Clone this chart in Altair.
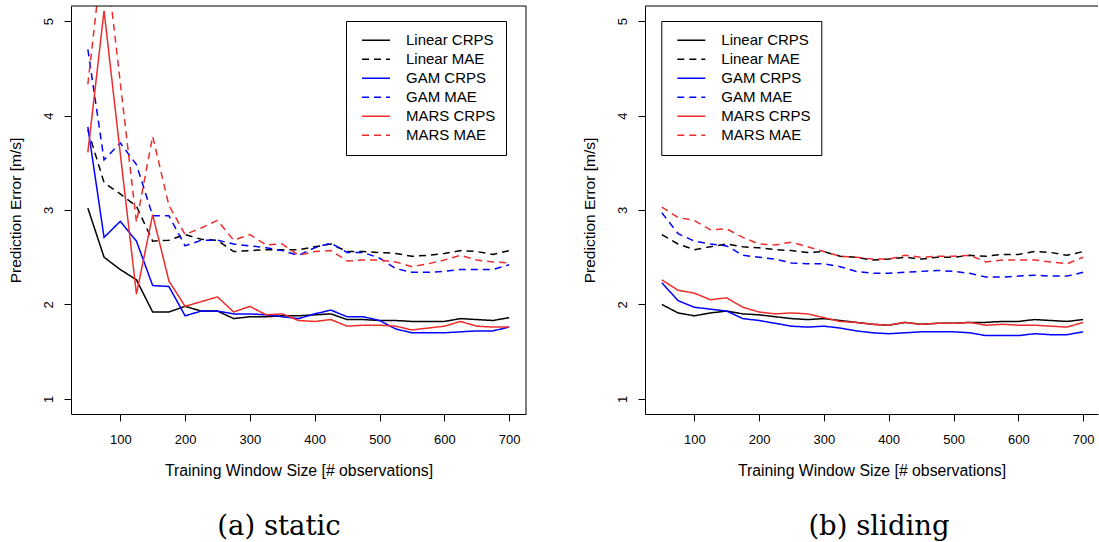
import altair as alt
import pandas as pd

# ---------------- data ----------------
x_vals = list(range(50, 701, 25))
series_names = ["Linear CRPS", "Linear MAE", "GAM CRPS", "GAM MAE", "MARS CRPS", "MARS MAE"]
series_colors = ["#000000", "#000000", "#0000FF", "#0000FF", "#EE2C2C", "#EE2C2C"]
series_dash = [[1, 0], [7, 5], [1, 0], [7, 5], [1, 0], [7, 5]]

static_linear_crps = [3.02, 2.50, 2.37, 2.26, 1.92, 1.92, 1.98, 1.93, 1.93, 1.85, 1.87, 1.87, 1.88, 1.88,
                      1.89, 1.90, 1.84, 1.84, 1.83, 1.83, 1.82, 1.82, 1.82, 1.85, 1.84, 1.83, 1.86]
static_linear_mae = [3.85, 3.29, 3.17, 3.04, 2.67, 2.68, 2.74, 2.69, 2.68, 2.56, 2.57, 2.58, 2.58, 2.58,
                     2.61, 2.64, 2.56, 2.56, 2.55, 2.54, 2.51, 2.52, 2.54, 2.57, 2.56, 2.53, 2.57]
static_gam_crps = [3.88, 2.71, 2.88, 2.67, 2.20, 2.19, 1.88, 1.93, 1.93, 1.90, 1.90, 1.89, 1.87, 1.85,
                   1.90, 1.94, 1.87, 1.87, 1.83, 1.74, 1.70, 1.70, 1.70, 1.71, 1.72, 1.72, 1.76]
static_gam_mae = [4.70, 3.53, 3.71, 3.48, 2.94, 2.94, 2.62, 2.68, 2.68, 2.64, 2.62, 2.60, 2.57, 2.52,
                  2.60, 2.65, 2.55, 2.55, 2.49, 2.38, 2.34, 2.34, 2.35, 2.37, 2.37, 2.37, 2.42]
static_mars_crps = [3.61, 5.11, 3.60, 2.11, 2.95, 2.25, 1.98, 2.03, 2.08, 1.92, 1.98, 1.89, 1.90, 1.83,
                    1.82, 1.84, 1.77, 1.78, 1.78, 1.77, 1.73, 1.75, 1.77, 1.82, 1.77, 1.76, 1.76]
static_mars_mae = [4.33, 5.85, 4.35, 2.87, 3.78, 3.05, 2.74, 2.81, 2.89, 2.68, 2.74, 2.63, 2.64, 2.52,
                   2.56, 2.57, 2.46, 2.47, 2.47, 2.45, 2.40, 2.43, 2.47, 2.52, 2.47, 2.45, 2.44]

sliding_linear_crps = [2.00, 1.91, 1.88, 1.91, 1.93, 1.90, 1.89, 1.87, 1.85, 1.84, 1.85, 1.83, 1.81, 1.79,
                       1.78, 1.81, 1.79, 1.80, 1.80, 1.81, 1.81, 1.82, 1.82, 1.84, 1.83, 1.82, 1.84]
sliding_linear_mae = [2.74, 2.64, 2.58, 2.61, 2.64, 2.61, 2.60, 2.58, 2.57, 2.55, 2.56, 2.51, 2.50, 2.47,
                      2.48, 2.50, 2.48, 2.50, 2.50, 2.52, 2.51, 2.53, 2.53, 2.56, 2.55, 2.52, 2.56]
sliding_gam_crps = [2.23, 2.04, 1.97, 1.95, 1.93, 1.85, 1.83, 1.80, 1.77, 1.76, 1.77, 1.75, 1.72, 1.70,
                    1.69, 1.70, 1.71, 1.71, 1.71, 1.70, 1.67, 1.67, 1.67, 1.69, 1.68, 1.68, 1.71]
sliding_gam_mae = [2.97, 2.75, 2.67, 2.64, 2.62, 2.52, 2.50, 2.48, 2.44, 2.43, 2.43, 2.40, 2.35, 2.33,
                   2.33, 2.34, 2.35, 2.36, 2.35, 2.33, 2.29, 2.29, 2.30, 2.31, 2.30, 2.30, 2.34]
sliding_mars_crps = [2.26, 2.15, 2.12, 2.05, 2.07, 1.97, 1.92, 1.90, 1.91, 1.90, 1.86, 1.82, 1.81, 1.79,
                     1.78, 1.81, 1.79, 1.80, 1.80, 1.81, 1.78, 1.79, 1.78, 1.78, 1.77, 1.76, 1.81]
sliding_mars_mae = [3.03, 2.92, 2.89, 2.79, 2.80, 2.71, 2.64, 2.63, 2.66, 2.61, 2.56, 2.51, 2.50, 2.48,
                    2.48, 2.52, 2.50, 2.51, 2.51, 2.52, 2.45, 2.47, 2.47, 2.47, 2.45, 2.43, 2.50]

x_ticks = [100, 200, 300, 400, 500, 600, 700]
y_ticks = [1, 2, 3, 4, 5]
x_title = "Training Window Size [# observations]"
y_title = "Prediction Error [m/s]"
captions = ["(a) static", "(b) sliding"]

static_series = [static_linear_crps, static_linear_mae, static_gam_crps,
                 static_gam_mae, static_mars_crps, static_mars_mae]
sliding_series = [sliding_linear_crps, sliding_linear_mae, sliding_gam_crps,
                  sliding_gam_mae, sliding_mars_crps, sliding_mars_mae]


def to_frame(series_list):
    rows = []
    for name, vals in zip(series_names, series_list):
        for xv, yv in zip(x_vals, vals):
            rows.append({"x": xv, "value": yv, "series": name})
    return pd.DataFrame(rows)


# ---------------- layout constants ----------------
H = 408
X_MIN, X_MAX_L = 24, 726
PX_PER_UNIT = 455 / (X_MAX_L - X_MIN)
Y_MIN, Y_MAX = 0.84, 5.16
FONT = "Liberation Sans"


def panel(df, width, xmax, legend_x, caption, cap_dx, right_border):
    leg = alt.Legend(
        orient="none", legendX=legend_x, legendY=15, title=None,
        symbolType="stroke", symbolSize=784, symbolStrokeWidth=1.5,
        labelFontSize=15, labelFont=FONT, labelColor="black", labelLimit=400,
        padding=10, strokeColor="black", fillColor="white",
        clipHeight=18.6, rowPadding=0, symbolOffset=5, labelOffset=15,
    )
    xaxis = alt.Axis(
        values=x_ticks, title=x_title, tickSize=7, tickColor="black", tickWidth=1,
        labelFontSize=13, labelFont=FONT, labelColor="black", labelPadding=12,
        labelFlush=False, labelOverlap=False,
        titleFontSize=15.8, titleFont=FONT, titleFontWeight="normal", titleColor="black",
        titleY=49, titleBaseline="top",
        domainColor="black", domainWidth=1, grid=False,
    )
    yaxis = alt.Axis(
        values=y_ticks, format="d", title=y_title, tickSize=7, tickColor="black", tickWidth=1,
        labelFontSize=13, labelFont=FONT, labelColor="black", labelPadding=9,
        labelAngle=270, labelAlign="center", labelBaseline="bottom",
        titleFontSize=15.5, titleFont=FONT, titleFontWeight="normal", titleColor="black",
        titleX=-51, titleY=H / 2, titleAngle=270, titleAlign="center",
        titleBaseline="alphabetic",
        domainColor="black", domainWidth=1, grid=False,
    )
    lines = alt.Chart(df).mark_line(clip=True, strokeWidth=1.5).encode(
        x=alt.X("x:Q", scale=alt.Scale(domain=[X_MIN, xmax], nice=False, zero=False), axis=xaxis),
        y=alt.Y("value:Q", scale=alt.Scale(domain=[Y_MIN, Y_MAX], nice=False, zero=False), axis=yaxis),
        color=alt.Color("series:N", scale=alt.Scale(domain=series_names, range=series_colors), legend=leg),
        strokeDash=alt.StrokeDash("series:N", scale=alt.Scale(domain=series_names, range=series_dash),
                                  legend=leg),
    )
    one = pd.DataFrame({"k": [0]})
    top = alt.Chart(one).mark_rule(color="black", strokeWidth=1).encode(y=alt.datum(Y_MAX))
    layers = [lines, top]
    if right_border:
        layers.append(alt.Chart(one).mark_rule(color="black", strokeWidth=1).encode(x=alt.datum(xmax)))
    return alt.layer(*layers).properties(
        width=width, height=H,
        title=alt.TitleParams(text=caption, orient="bottom", anchor="middle", frame="group",
                              font="DejaVu Serif", fontSize=27.5, fontWeight="normal", color="black",
                              dx=cap_dx, offset=35, baseline="top"),
    )


W_R = 453
left = panel(to_frame(static_series), 455, X_MAX_L, 275, captions[0], -19.5, True)
right = panel(to_frame(sliding_series), W_R, X_MIN + W_R / PX_PER_UNIT, 16.3, captions[1], 7.5, False)

chart = alt.hconcat(left, right, spacing=55).resolve_scale(
    x="independent", y="independent", color="independent", strokeDash="independent"
).resolve_legend(color="independent", strokeDash="independent").properties(
    padding={"left": 8, "top": 5, "right": 0, "bottom": 0}
).configure_view(stroke=None)

chart.save("out.html", embed_options={"renderer": "svg", "actions": False})
